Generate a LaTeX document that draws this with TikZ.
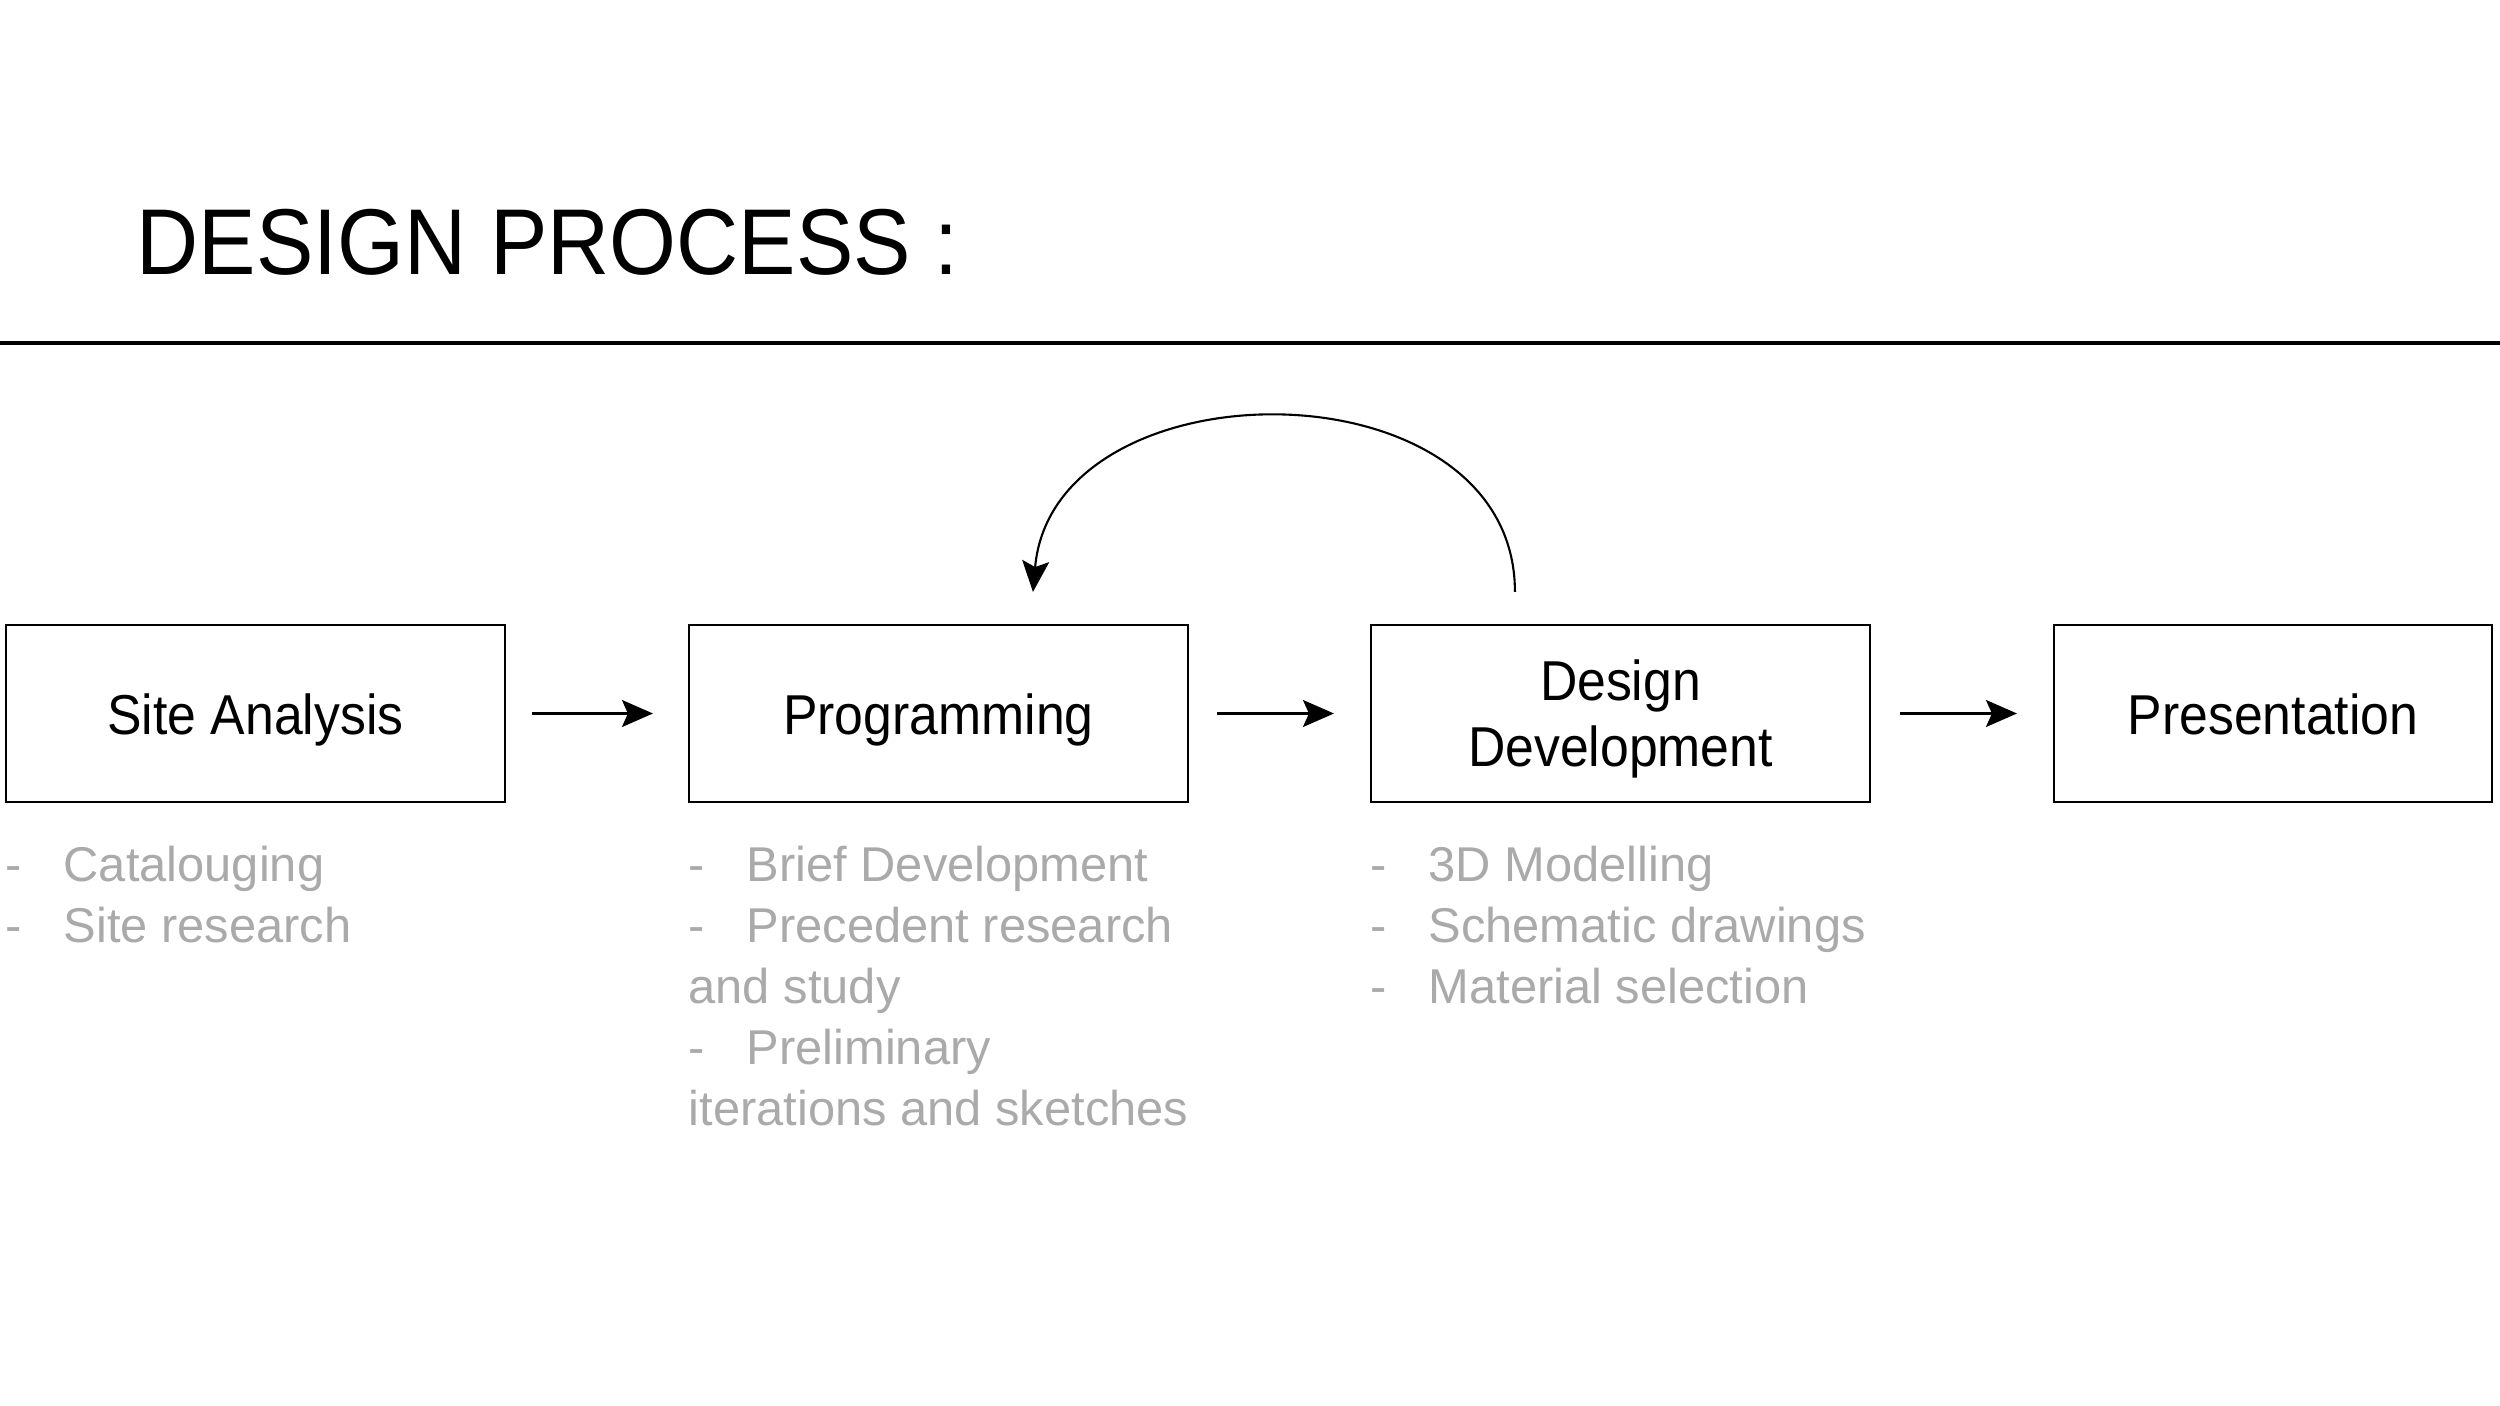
\documentclass[tikz,border=0pt]{standalone}
\usepackage{fontspec}
\setmainfont{Liberation Sans}
\newfontfamily\headfont[FakeStretch=0.92]{Liberation Sans}
\usetikzlibrary{arrows.meta}
\definecolor{notegray}{RGB}{170,170,170}
\tikzset{
  stage/.style={draw,line width=0.6pt,minimum width=4.99cm,minimum height=1.77cm,inner sep=0pt,align=center,text height=15.6pt,text depth=3.4pt,font=\headfont\fontsize{16}{19}\selectfont},
  notes/.style={anchor=north west,inner sep=0pt,align=left,text=notegray,font=\fontsize{13.9}{17.4}\selectfont,execute at begin node=\rule{0pt}{11pt}},
  flow/.style={-{Stealth[length=3.1mm,width=2.7mm,inset=0.6mm]},line width=0.6pt},
}
\newcommand{\itm}{\makebox[0.58cm][l]{-}}
\begin{document}
\begin{tikzpicture}
        \useasboundingbox (0,0) rectangle (25,14.05);
        %% Title
        \node[anchor=base west,inner sep=0pt,font=\headfont\fontsize{26.6}{32}\selectfont] (title) at (1.36,11.30) {DESIGN PROCESS :};
        \draw[line width=0.95pt] (0,10.62) -- (25,10.62);
        %% Stages
        \node[stage] (site) at (2.555,6.915) {Site Analysis};
        \node[stage] (prog) at (9.385,6.915) {Programming};
        \node[stage,text height=33.8pt] (dev) at (16.205,6.915) {Design\\Development};
        \node[stage,minimum width=4.38cm] (pres) at (22.73,6.915) {Presentation};
        %% Notes
        \node[notes] (sitelist) at ([yshift=-0.422cm]site.south west) {\itm Catalouging\\\itm Site research};
        \node[notes] (proglist) at ([yshift=-0.422cm]prog.south west) {\itm Brief Development\\\itm Precedent research\\and study\\\itm Preliminary\\iterations and sketches};
        \node[notes] (devlist) at ([yshift=-0.422cm]dev.south west) {\itm 3D Modelling\\\itm Schematic drawings\\\itm Material selection};
        %% Arrows
        \draw[flow,shorten <=0.26cm,shorten >=0.35cm] (site.east) -- (prog.west);
        \draw[flow,shorten <=0.28cm,shorten >=0.36cm] (prog.east) -- (dev.west);
        \draw[flow,shorten <=0.29cm,shorten >=0.36cm] (dev.east) -- (pres.west);
        \coordinate (loopA) at ([shift={(1.45,0.32)}]dev.north west);
        \coordinate (loopB) at ([shift={(3.45,0.32)}]prog.north west);
        \draw[flow] (loopA) to[out=90,in=85,looseness=1.24] (loopB);
    \end{tikzpicture}
\end{document}
